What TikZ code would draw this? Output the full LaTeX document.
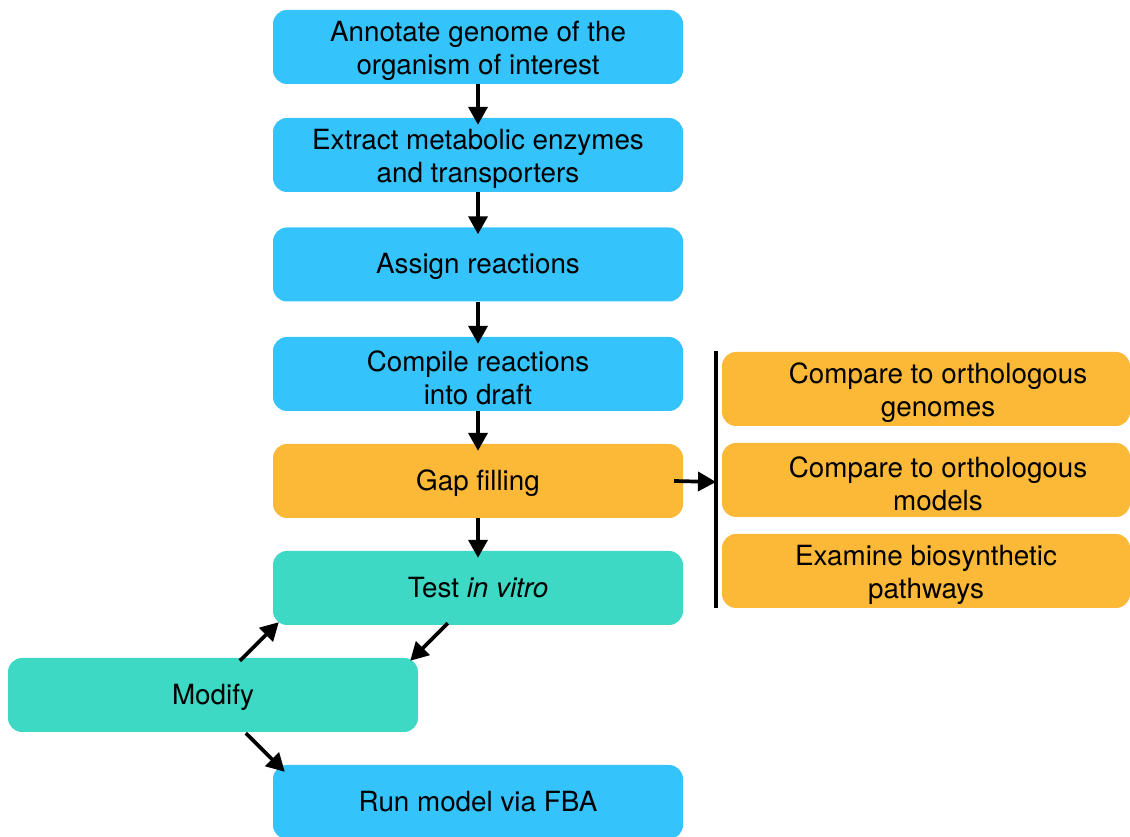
\documentclass[tikz,border=0pt]{standalone}
\usepackage{fontspec}
\setmainfont{TeX Gyre Heros}
\usetikzlibrary{arrows.meta}
\definecolor{cblue}{RGB}{53,195,252}
\definecolor{corange}{RGB}{252,184,55}
\definecolor{cteal}{RGB}{61,217,197}
\newcommand{\upstrut}{\rule{0pt}{28pt}}
\newcommand{\onestrut}{\rule[-8pt]{0pt}{35pt}}
\tikzset{
  txt/.style={align=center, font=\fontsize{27.8pt}{33pt}\selectfont, text=black},
  box/.style={txt, rectangle, rounded corners=14pt, minimum width=410pt, minimum height=74pt,
    inner sep=0pt},
  bluebox/.style={box, fill=cblue},
  orangebox/.style={box, fill=corange},
  tealbox/.style={box, fill=cteal},
  sidebox/.style={box, fill=corange, minimum width=408pt},
  arr/.style={line width=3.7pt, -{Triangle[length=18pt,width=19pt]}},
  bar/.style={line width=3.5pt}
}
\begin{document}
\begin{tikzpicture}[x=1pt,y=1pt]
\useasboundingbox (0,0) rectangle (1130,837);
\node[bluebox] (b1) at (478,790) {\upstrut Annotate genome of the\\organism of interest};
\node[bluebox] (b2) at (478,682) {\upstrut Extract metabolic enzymes\\and transporters};
\node[bluebox] (b3) at (478,572.5) {\onestrut Assign reactions};
\node[bluebox] (b4) at (478,463) {\upstrut Compile reactions\\into draft};
\node[orangebox] (g) at (478,356) {\onestrut Gap filling};
\node[tealbox] (t) at (478,249) {\onestrut Test \textit{in vitro}};
\node[tealbox] (m) at (213,142) {\onestrut Modify};
\node[bluebox] (r) at (478,35) {\onestrut Run model via FBA};
\node[sidebox, label={[txt,anchor=center,xshift=12pt,inner sep=0pt]center:\upstrut Compare to orthologous\\genomes}] (o1) at (926,448) {};
\node[sidebox, label={[txt,anchor=center,xshift=12pt,inner sep=0pt]center:\upstrut Compare to orthologous\\models}] (o2) at (926,357) {};
\node[sidebox] (o3) at (926,266) {\upstrut Examine biosynthetic\\pathways};
\coordinate (bt) at (716,486);
\coordinate (bb) at (716,229);
\draw[bar] (bt) -- (bb);
\draw[arr, shorten >=-7pt] (b1.south) -- (b2.north);
\draw[arr, shorten >=-7pt] (b2.south) -- (b3.north);
\draw[arr, shorten >=-7pt] (b3.south) -- (b4.north);
\draw[arr, shorten >=-7pt] (b4.south) -- (g.north);
\draw[arr, shorten >=-7pt] (g.south) -- (t.north);
\draw[arr] ([xshift=-9pt]g.east) -- ([yshift=-1pt]g.east -| bt);
\draw[arr] ([xshift=232pt,yshift=-3pt]m.north west) -- ([xshift=6pt,yshift=3pt]t.south west);
\draw[arr] ([xshift=175pt,yshift=2pt]t.south west) -- ([xshift=-8pt,yshift=-3pt]m.north east);
\draw[arr] ([xshift=238pt,yshift=-1pt]m.south west) -- ([xshift=12pt,yshift=-7pt]r.north west);
\end{tikzpicture}
\end{document}
